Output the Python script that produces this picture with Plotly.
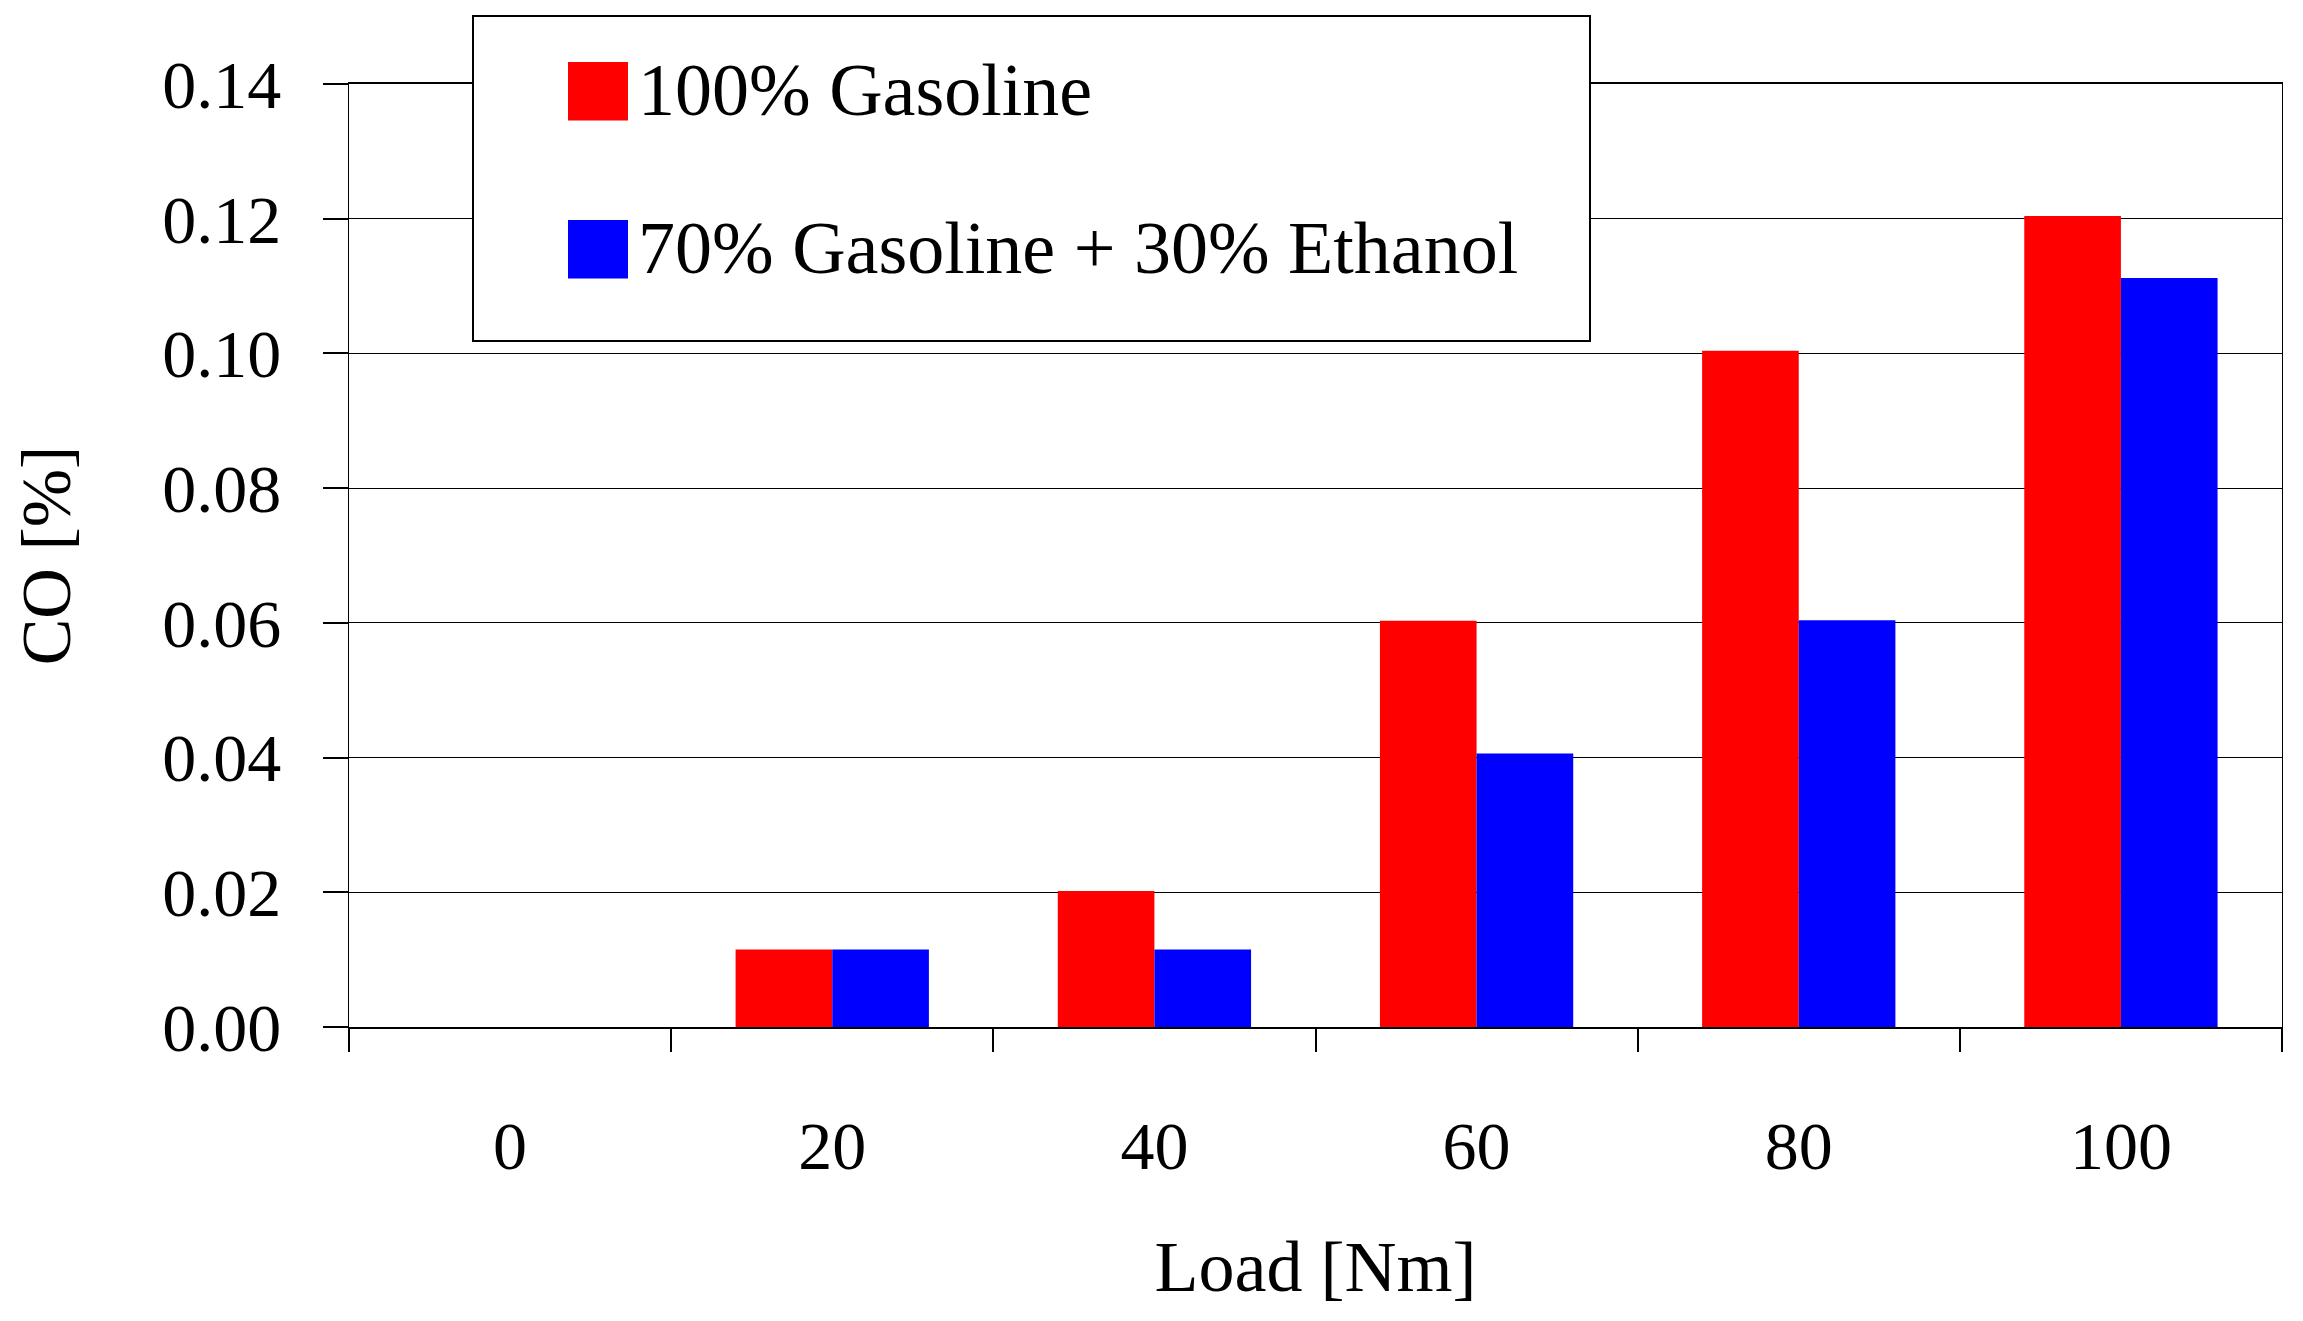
import plotly.graph_objects as go

loads = [0, 20, 40, 60, 80, 100]
load_labels = ["0", "20", "40", "60", "80", "100"]
co_gasoline = [0.0, 0.0115, 0.0202, 0.0603, 0.1004, 0.1204]
co_blend = [0.0, 0.0115, 0.0115, 0.0406, 0.0604, 0.1112]
series_names = ["100% Gasoline", "70% Gasoline + 30% Ethanol"]
series_colors = ["#FF0000", "#0000FF"]

# page body has an 8px margin; size the figure so it fits the window exactly
OFF = 8
W, H = 2303 - 2 * OFF, 1321 - 2 * OFF
L, R, T, B = 349 - OFF, 2282 - OFF, 84 - OFF, 1027 - OFF
FONT = "Liberation Serif"

def px(xp):
    return (xp - OFF - L) / (R - L)

def py(yp):
    return (B - (yp - OFF)) / (B - T)

fig = go.Figure()
for name, vals, col in zip(series_names, [co_gasoline, co_blend], series_colors):
    fig.add_trace(go.Bar(x=loads, y=vals, name=name, marker=dict(color=col, line=dict(width=0)),
                         showlegend=False))

boundaries = [loads[0] - 10 + 20 * i for i in range(len(loads) + 1)]

fig.update_layout(
    width=W, height=H,
    margin=dict(l=L, r=W - R, t=T, b=H - B, pad=0),
    paper_bgcolor="white", plot_bgcolor="white",
    barmode="group", bargap=0.4, bargroupgap=0,
    font=dict(family=FONT, color="black", size=68),
    xaxis=dict(
        range=[-10, 110], tickmode="array", tickvals=loads, ticktext=load_labels,
        ticks="outside", ticklen=0, tickwidth=0, ticklabelstandoff=58,
        tickfont=dict(family=FONT, size=68),
        showline=True, linecolor="black", linewidth=2, mirror=True,
        showgrid=False, zeroline=False,
        minor=dict(tickmode="array", tickvals=boundaries, ticks="outside", ticklen=23,
                   tickwidth=1.5, tickcolor="black", showgrid=False),
        title=dict(text="Load [Nm]", font=dict(family=FONT, size=72), standoff=58),
    ),
    yaxis=dict(
        range=[0, 0.14], tickmode="linear", tick0=0, dtick=0.02, tickformat=".2f",
        ticks="outside", ticklen=25, tickwidth=1.5, tickcolor="black",
        ticklabelstandoff=28, tickfont=dict(family=FONT, size=68),
        showline=True, linecolor="black", linewidth=1.2, mirror=True,
        showgrid=True, gridcolor="black", gridwidth=1, zeroline=False,
        title=dict(text="CO [%]", font=dict(family=FONT, size=70), standoff=74),
    ),
)

# Legend box drawn to match the reference's large swatches
shapes = [
    dict(type="rect", xref="paper", yref="paper", x0=px(473), x1=px(1590), y0=py(341), y1=py(16),
         fillcolor="white", line=dict(color="black", width=2), layer="above"),
    dict(type="rect", xref="paper", yref="paper", x0=px(568), x1=px(628), y0=py(120.5), y1=py(62),
         fillcolor=series_colors[0], line=dict(width=0), layer="above"),
    dict(type="rect", xref="paper", yref="paper", x0=px(568), x1=px(628), y0=py(278.6), y1=py(220),
         fillcolor=series_colors[1], line=dict(width=0), layer="above"),
]
fig.update_layout(shapes=shapes)
for name, yc in zip(series_names, [90, 248]):
    fig.add_annotation(xref="paper", yref="paper", x=px(636), y=py(yc), text=name, showarrow=False,
                       xanchor="left", yanchor="middle", font=dict(family=FONT, size=74, color="black"))

fig.write_html("out.html")
